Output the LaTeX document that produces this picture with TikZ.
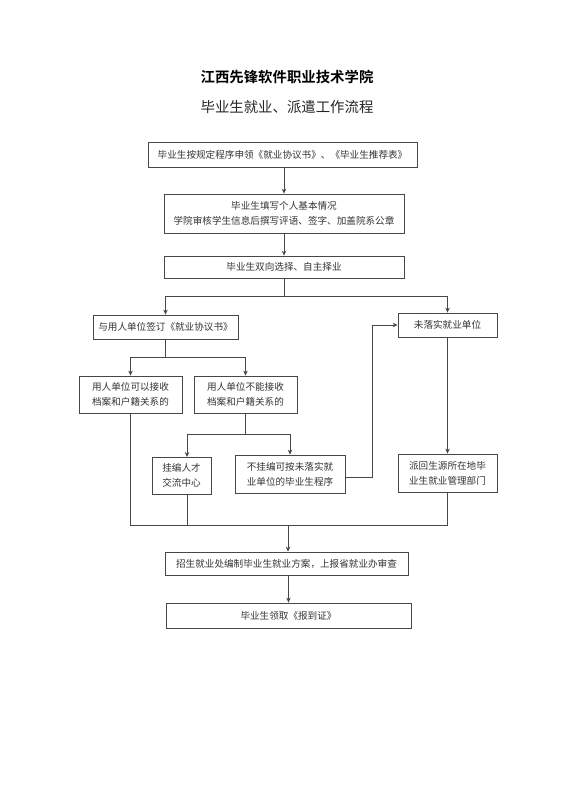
\documentclass[tikz,border=0pt]{standalone}
\usepackage{fontspec}
\setmainfont{Noto Sans CJK SC}
\newfontfamily\cjkbold{Noto Sans CJK SC Bold}
\usetikzlibrary{arrows.meta,calc}
\begin{document}
\begin{tikzpicture}[x=1pt,y=-1pt,
  box/.style={draw=black!72,line width=0.8pt,inner sep=0pt,align=center,
     font=\fontsize{9.6}{15}\selectfont,text=black!80},
  ln/.style={draw=black!72,line width=0.8pt},
  arr/.style={ln,-{Stealth[length=5pt,width=4.5pt]}}]
\useasboundingbox (0,0) rectangle (581,800);
\node[font=\cjkbold\fontsize{14.4}{16}\selectfont] (t1) at (287,77) {江西先锋软件职业技术学院};
\node[font=\fontsize{14.4}{16}\selectfont,text=black!85] (t2) at (287,107) {毕业生就业、派遣工作流程};

\node[box,minimum width=269,minimum height=25] (b1) at (282.5,154.5) {毕业生按规定程序申领《就业协议书》、《毕业生推荐表》};
\node[box,minimum width=240,minimum height=39] (b2) at (284,213.5) {毕业生填写个人基本情况\\学院审核学生信息后撰写评语、签字、加盖院系公章};
\node[box,minimum width=240,minimum height=22] (b3) at (284,267) {毕业生双向选择、自主择业};
\node[box,minimum width=145,minimum height=24] (b4) at (165.5,327) {与用人单位签订《就业协议书》};
\node[box,minimum width=99,minimum height=24] (bR) at (447.5,325) {未落实就业单位};
\node[box,minimum width=103,minimum height=37] (b5a) at (130.5,394.5) {用人单位可以接收\\档案和户籍关系的};
\node[box,minimum width=103,minimum height=37] (b5b) at (245.5,394.5) {用人单位不能接收\\档案和户籍关系的};
\node[box,minimum width=59,minimum height=37] (b6a) at (181.5,475.5) {挂编人才\\交流中心};
\node[box,minimum width=110,minimum height=38] (b6b) at (290,474) {不挂编可按未落实就\\业单位的毕业生程序};
\node[box,minimum width=99,minimum height=38] (bP) at (447.5,473) {派回生源所在地毕\\业生就业管理部门};
\node[box,minimum width=243,minimum height=23] (b7) at (286.5,563.5) {招生就业处编制毕业生就业方案，上报省就业办审查};
\node[box,minimum width=245,minimum height=25] (b8) at (288.5,615.5) {毕业生领取《报到证》};

\coordinate (j1) at (284,296);
\coordinate (j2) at (165.5,357);
\coordinate (j3) at (245.5,434);
\coordinate (k) at (372,477);
\coordinate (m) at (288,525);
\coordinate (a6) at (187,457);

\draw[arr] (b2.north |- b1.south) -- (b2.north);
\draw[arr] (b2.south) -- (b3.north);
\draw[ln] (b3.south) -- (j1);
\draw[arr] (j1) -| (b4.north);
\draw[arr] (j1) -| (bR.north);
\draw[ln] (b4.south) -- (j2);
\draw[arr] (j2) -| (b5a.north);
\draw[arr] (j2) -| (b5b.north);
\draw[arr] (bR.south) -- (bP.north);
\draw[ln] (b5b.south) -- (j3);
\draw[arr] (j3) -| (a6);
\draw[arr] (j3) -| (b6b.north);
\draw[arr] (b6b.east |- k) -- (k) |- (bR.west);
\draw[ln] (b5a.south) -- (b5a.south |- m) -- (bP.south |- m) -- (bP.south);
\draw[ln] (a6 |- b6a.south) -- (a6 |- m);
\draw[arr] (m) -- (m |- b7.north);
\draw[arr] (b7.south -| b8.north) -- (b8.north);
\end{tikzpicture}
\end{document}
